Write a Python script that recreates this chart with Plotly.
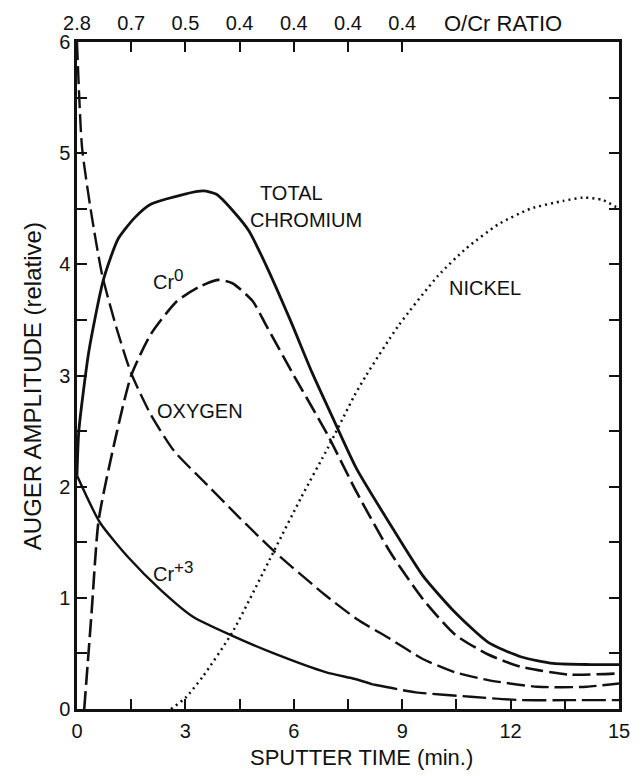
import plotly.graph_objects as go

# ---------------- data ----------------
total_cr_x = [0, 0.05, 0.33, 0.73, 1.14, 1.6, 2.04, 2.96, 3.5, 3.86, 4.32, 4.76, 5.22, 5.9, 6.5, 7.12, 7.74, 8.67, 9.57, 10.46, 11.38, 12.28, 13.18, 14.2, 15]
total_cr_y = [2.1, 2.5, 3.22, 3.86, 4.23, 4.42, 4.54, 4.63, 4.66, 4.63, 4.48, 4.3, 4.0, 3.5, 3.03, 2.59, 2.16, 1.66, 1.2, 0.87, 0.6, 0.47, 0.41, 0.4, 0.4]

cr0_x = [0.2, 0.4, 0.6, 1.06, 1.5, 2.04, 2.77, 3.4, 3.9, 4.3, 4.86, 5.22, 6.0, 6.93, 7.74, 8.67, 9.57, 10.46, 11.38, 12.28, 13.6, 15]
cr0_y = [0, 0.85, 1.7, 2.43, 3.0, 3.37, 3.67, 3.8, 3.86, 3.83, 3.67, 3.46, 3.0, 2.47, 1.95, 1.41, 0.99, 0.67, 0.49, 0.38, 0.31, 0.32]

oxygen_x = [0, 0.14, 0.4, 0.7, 1.1, 1.5, 2.04, 2.69, 3.59, 4.5, 5.45, 6.85, 7.74, 8.67, 9.57, 10.46, 11.38, 12.74, 14.1, 15]
oxygen_y = [6.0, 5.05, 4.45, 3.9, 3.42, 3.02, 2.65, 2.32, 2.02, 1.72, 1.42, 1.03, 0.81, 0.63, 0.45, 0.33, 0.26, 0.2, 0.2, 0.23]

cr3_x = [0, 0.63, 1.43, 2.32, 3.21, 4.29, 5.45, 6.9, 7.7, 8.2, 9.38, 10.9, 12.28, 13.6, 15]
cr3_y = [2.1, 1.68, 1.36, 1.07, 0.83, 0.66, 0.5, 0.33, 0.27, 0.22, 0.15, 0.11, 0.08, 0.08, 0.08]
cr3_solid_end = 9  # index where the Cr+3 curve turns dashed

nickel_x = [2.6, 3.0, 3.5, 4.3, 5.45, 6.2, 6.96, 7.68, 8.0, 8.9, 10.0, 10.76, 11.66, 12.55, 13.45, 14.0, 14.54, 15]
nickel_y = [0, 0.1, 0.3, 0.69, 1.42, 1.9, 2.36, 2.82, 3.0, 3.45, 3.9, 4.14, 4.36, 4.5, 4.57, 4.6, 4.58, 4.5]

bottom_ticks = [0, 1.5, 3, 4.5, 6, 7.5, 9, 10.5, 12, 13.5, 15]
bottom_labels = ["0", "", "3", "", "6", "", "9", "", "12", "", "15"]
left_ticks = [0, 0.5, 1, 1.5, 2, 2.5, 3, 3.5, 4, 4.5, 5, 5.5, 6]
left_labels = ["0", "", "1", "", "2", "", "3", "", "4", "", "5", "", "6"]
ratio_ticks = [0, 1.5, 3, 4.5, 6, 7.5, 9]
ratio_labels = ["2.8", "0.7", "0.5", "0.4", "0.4", "0.4", "0.4"]

FONT = "Liberation Sans, Arial, sans-serif"
INK = "#111111"

fig = go.Figure()

def add_line(x, y, dash, width=2.6, name=""):
    fig.add_trace(go.Scatter(x=x, y=y, mode="lines", name=name,
                             line=dict(color=INK, width=width, dash=dash,
                                       shape="spline", smoothing=0.6),
                             hoverinfo="skip", showlegend=False))

add_line(total_cr_x, total_cr_y, "solid", 2.8, "Total chromium")
add_line(cr0_x, cr0_y, "18px,6px", 2.6, "Cr0")
add_line(oxygen_x, oxygen_y, "18px,6px", 2.4, "Oxygen")
add_line(cr3_x[:cr3_solid_end + 1], cr3_y[:cr3_solid_end + 1], "solid", 2.4, "Cr+3")
add_line(cr3_x[cr3_solid_end:], cr3_y[cr3_solid_end:], "24px,6px", 2.4, "Cr+3")
add_line(nickel_x, nickel_y, "2px,4px", 2.5, "Nickel")

# dummy trace to activate the top ratio axis
fig.add_trace(go.Scatter(x=[0], y=[0], xaxis="x2", mode="markers",
                         marker=dict(opacity=0), hoverinfo="skip", showlegend=False))

tickfont = dict(family=FONT, size=20, color=INK)

fig.update_layout(
    width=642, height=776,
    margin=dict(l=77, r=13, t=39, b=67),
    paper_bgcolor="white", plot_bgcolor="white",
    xaxis=dict(range=[0, 15], tickmode="array", tickvals=bottom_ticks, ticktext=bottom_labels,
               ticks="inside", ticklen=10, tickwidth=2, tickcolor=INK,
               showline=True, linewidth=2.5, linecolor=INK, mirror=True,
               showgrid=False, zeroline=False, tickfont=tickfont, ticklabelstandoff=2),
    xaxis2=dict(range=[0, 15], overlaying="x", side="top", tickmode="array",
                tickvals=ratio_ticks, ticktext=ratio_labels,
                ticks="inside", ticklen=10, tickwidth=2, tickcolor=INK,
                showline=False, showgrid=False, zeroline=False, ticklabelstandoff=7,
                tickfont=dict(family=FONT, size=20, color=INK)),
    yaxis=dict(range=[0, 6], tickmode="array", tickvals=left_ticks, ticktext=left_labels,
               ticks="inside", ticklen=10, tickwidth=2, tickcolor=INK,
               showline=True, linewidth=2.5, linecolor=INK, mirror="ticks",
               showgrid=False, zeroline=False, tickfont=tickfont),
)

def label(text, x, y, size=20, xref="x", yref="y", xanchor="left", angle=0):
    fig.add_annotation(text=text, x=x, y=y, xref=xref, yref=yref, xanchor=xanchor,
                       yanchor="middle", showarrow=False, textangle=angle,
                       font=dict(family=FONT, size=size, color=INK))

SUP = "<sup><span style='font-size:17px'>{}</span></sup>"
label("TOTAL", 5.02, 4.64)
label("CHROMIUM", 4.74, 4.40)
label("Cr" + SUP.format("0"), 2.04, 3.86)
label("OXYGEN", 2.17, 2.68)
label("Cr" + SUP.format("+3"), 2.04, 1.24)
label("NICKEL", 10.25, 3.79)
label("O/Cr RATIO", 11.8, 1.027, size=22, yref="paper", xanchor="center")
label("SPUTTER TIME (min.)", 7.88, -0.073, size=22, yref="paper", xanchor="center")
label("AUGER AMPLITUDE (relative)", -0.083, 0.484, size=24, xref="paper", yref="paper",
      xanchor="center", angle=-90)

fig.write_html("out.html")
